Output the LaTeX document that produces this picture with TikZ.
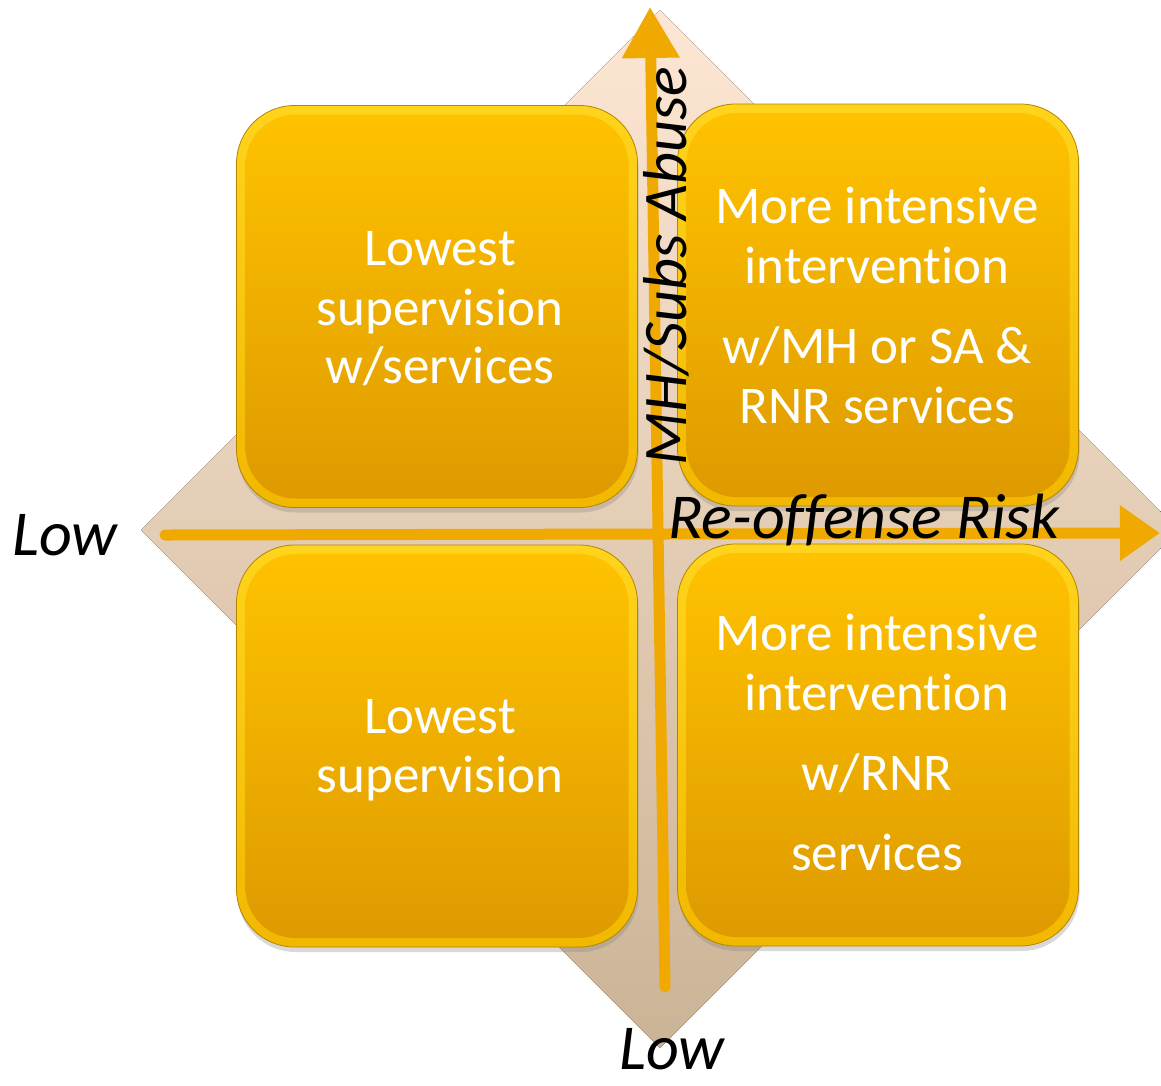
\documentclass[tikz,border=0pt]{standalone}
\usepackage{fontspec}
\setmainfont{Carlito}[Ligatures={NoCommon,NoRequired,NoContextual,NoRare}]
\usetikzlibrary{arrows.meta,shadows}
\definecolor{arrowgold}{HTML}{F0A900}
\definecolor{diamtop}{HTML}{FDE7D4}
\definecolor{diambot}{HTML}{CBB396}
\definecolor{boxedge}{HTML}{B48400}
\definecolor{rimtop}{HTML}{FFD41C}
\definecolor{rimbot}{HTML}{F2B800}
\definecolor{filltop}{HTML}{FFC200}
\definecolor{fillbot}{HTML}{DE9A00}
\tikzset{
  qbox/.style={rectangle, rounded corners=58pt, minimum width=401pt, minimum height=402pt,
    draw=boxedge, line width=0.8pt, top color=rimtop, bottom color=rimbot,
    drop shadow={opacity=0.3, shadow xshift=1pt, shadow yshift=-5pt}, inner sep=0pt},
  qinner/.style={rectangle, rounded corners=50pt, minimum width=383pt, minimum height=384pt,
    top color=filltop, bottom color=fillbot, inner sep=0pt},
  qtext/.style={anchor=base, text=white, inner sep=0pt, font=\fontsize{53}{60}\selectfont},
  axlabel/.style={anchor=base west, text=black, inner sep=0pt, font=\fontsize{64}{70}\selectfont\itshape},
  axis/.style={draw=arrowgold, line width=11pt},
}
\begin{document}
\begin{tikzpicture}[x=1pt,y=-1pt]
\useasboundingbox (0,0) rectangle (1161,1085);
% background diamond
\fill[top color=diamtop, bottom color=diambot] (660,10) -- (1179,530) -- (660,1048) -- (141,530) -- cycle;

% boxes
\node[qbox] (tl) at (437,306.5) {};
\node[qinner] (tlin) at (437,306.5) {};
\node[qbox] (tr) at (878,305) {};
\node[qinner] (trin) at (878,305) {};
\node[qbox] (bl) at (437,746) {};
\node[qinner] (blin) at (437,746) {};
\node[qbox] (br) at (878,745) {};
\node[qinner] (brin) at (878,745) {};

% box texts
\node[qtext] (tl1) at (440,265) {Lowest};
\node[qtext] (tl2) at (440,325) {supervision};
\node[qtext] (tl3) at (440,383) {w/services};

\node[qtext] (tr1) at (877,223) {More intensive};
\node[qtext] (tr2) at (877,283) {intervention};
\node[qtext] (tr3) at (877,363) {w/MH or SA \&};
\node[qtext] (tr4) at (877,423) {RNR services};

\node[qtext] (bl1) at (440,733) {Lowest};
\node[qtext] (bl2) at (440,792) {supervision};

\node[qtext] (br1) at (877,650) {More intensive};
\node[qtext] (br2) at (877,710) {intervention};
\node[qtext] (br3) at (877,790) {w/RNR};
\node[qtext] (br4) at (877,870) {services};

% axes
\coordinate (vstart) at (665,987);
\coordinate (vend) at (650,7);
\coordinate (hstart) at (165,535);
\coordinate (hend) at (1160,533);
\draw[axis, line cap=round, -{Triangle[length=51pt,width=55pt]}] (vstart) -- (vend);
\draw[axis, line cap=round, -{Triangle[length=40pt,width=53pt]}] (hstart) -- (hend);

% axis labels
\node[axlabel] (lowx) at (12,555) {Low};
\node[axlabel] (lowy) at (619,1069) {Low};
\node[axlabel] (risk) at (668,538) {Re-offense Risk};
\node[axlabel, rotate=90, font=\fontsize{62}{70}\selectfont\itshape] (mh) at (686,466) {MH/Subs Abuse};
\end{tikzpicture}
\end{document}
